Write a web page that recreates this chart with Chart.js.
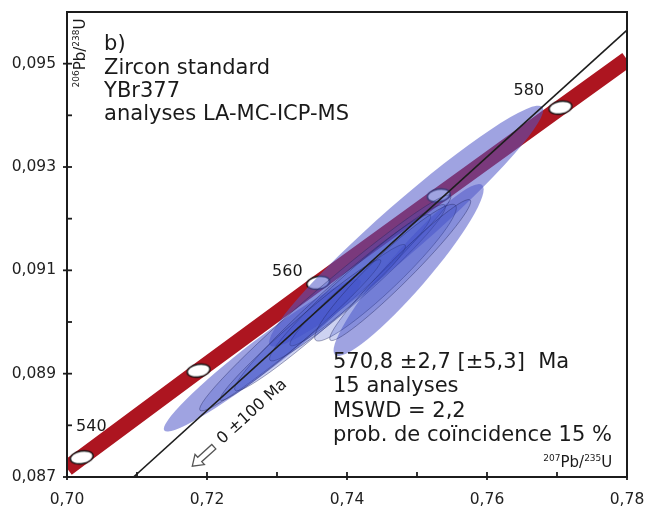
<!DOCTYPE html>
<html>
<head>
<meta charset="utf-8">
<script src="https://cdn.jsdelivr.net/npm/chart.js@4.4.1/dist/chart.umd.min.js"></script>
<style>
  html, body { margin: 0; padding: 0; background: #fff; }
</style>
</head>
<body>
<canvas id="concordiaChart" width="652" height="512"></canvas>
<script>
// axis ticks (207Pb/235U on x, 206Pb/238U on y)
const xTicks = [0.70, 0.71, 0.72, 0.73, 0.74, 0.75, 0.76, 0.77, 0.78];
const xLabels = ['0,70', '', '0,72', '', '0,74', '', '0,76', '', '0,78'];
const yTicks = [0.087, 0.088, 0.089, 0.090, 0.091, 0.092, 0.093, 0.094, 0.095, 0.096];
const yLabels = ['0,087', '', '0,089', '', '0,091', '', '0,093', '', '0,095', ''];

// concordia band, read along its centre (edges of the frame + the age marks)
const concordiaX = [0.7000, 0.7021, 0.7188, 0.7359, 0.7531, 0.7705, 0.7800];
const concordiaY = [0.08717, 0.08738, 0.08906, 0.09076, 0.09245, 0.09415, 0.09508];

// age marks on the concordia (every 10 Ma)
const ageMarks = [540, 550, 560, 570, 580];
const ageX = [0.7021, 0.7188, 0.7359, 0.7531, 0.7705];
const ageY = [0.08738, 0.08906, 0.09076, 0.09245, 0.09415];

// discordia through the lower intercept (0 ± 100 Ma)
const discordiaX = [0.7095, 0.7800];
const discordiaY = [0.0870, 0.09565];

// error ellipses: ends of the long axis, width ratio, dark core or not
const ellX1 = [0.7139, 0.7290, 0.7383, 0.7190, 0.7240, 0.7290, 0.7319, 0.7219, 0.7355, 0.7376];
const ellY1 = [0.08790, 0.08955, 0.08936, 0.08829, 0.08868, 0.08926, 0.08955, 0.08849, 0.08965, 0.08965];
const ellX2 = [0.7419, 0.7679, 0.7593, 0.7548, 0.7519, 0.7540, 0.7483, 0.7448, 0.7555, 0.7576];
const ellY2 = [0.09081, 0.09416, 0.09265, 0.09245, 0.09207, 0.09226, 0.09149, 0.09120, 0.09226, 0.09236];
const ellRatio = [0.130, 0.133, 0.178, 0.091, 0.107, 0.12, 0.131, 0.094, 0.165, 0.121];
const ellDark = [false, false, false, true, true, true, true, true, true, true];

// text on the plot
const noteLines = ['b)', 'Zircon standard', 'YBr377', 'analyses LA-MC-ICP-MS'];
const noteAt = [0.7053, 0.09526];
const resultLines = ['570,8 ±2,7 [±5,3]  Ma', '15 analyses', 'MSWD = 2,2', 'prob. de coïncidence 15 %'];
const resultAt = [0.7380, 0.08911];
const ageLabelText = ['540', '560', '580'];
const ageLabelX = [0.7013, 0.7293, 0.7638];
const ageLabelY = [0.08789, 0.09089, 0.09439];
const interceptText = '0 ±100 Ma';
const interceptAt = [0.7222, 0.08763];
const arrowTipAt = [0.7179, 0.08721];
const yTitleAt = [0.7026, 0.09454];
const xTitleAt = [0.7779, 0.08719];

const FONT = '"DejaVu Sans", sans-serif';

function markerImage() {
  const c = document.createElement('canvas');
  c.width = 30; c.height = 20;
  const g = c.getContext('2d');
  g.beginPath();
  g.ellipse(15, 10, 11.5, 6.3, -0.18, 0, Math.PI * 2);
  g.fillStyle = '#fff';
  g.fill();
  g.lineWidth = 1.4;
  g.strokeStyle = '#111';
  g.stroke();
  return c;
}

function toPoints(xs, ys) {
  return xs.map((v, i) => ({ x: v, y: ys[i] }));
}

// superscript isotopes, e.g. 206Pb/238U
function isotopeParts(a, b) {
  return [{ t: a, sup: true }, { t: 'Pb/', sup: false }, { t: b, sup: true }, { t: 'U', sup: false }];
}
function richWidth(ctx, parts) {
  let w = 0;
  parts.forEach((p) => {
    ctx.font = (p.sup ? '9px ' : '15px ') + FONT;
    w += ctx.measureText(p.t).width;
  });
  return w;
}
function drawRich(ctx, parts, x, y) {
  parts.forEach((p) => {
    ctx.font = (p.sup ? '9px ' : '15px ') + FONT;
    ctx.fillText(p.t, x, p.sup ? y - 6 : y);
    x += ctx.measureText(p.t).width;
  });
}

const errorEllipses = {
  id: 'errorEllipses',
  afterDatasetDraw(chart, args) {
    if (args.index !== 1) return;
    const { ctx, chartArea: a, scales: { x, y } } = chart;
    ctx.save();
    ctx.beginPath();
    ctx.rect(a.left, a.top, a.right - a.left, a.bottom - a.top);
    ctx.clip();
    ellX1.forEach((_, i) => {
      const ax = x.getPixelForValue(ellX1[i]), ay = y.getPixelForValue(ellY1[i]);
      const bx = x.getPixelForValue(ellX2[i]), by = y.getPixelForValue(ellY2[i]);
      const half = Math.hypot(bx - ax, by - ay) / 2;
      ctx.beginPath();
      ctx.ellipse((ax + bx) / 2, (ay + by) / 2, half, half * ellRatio[i], Math.atan2(by - ay, bx - ax), 0, Math.PI * 2);
      ctx.fillStyle = ellDark[i] ? 'rgba(60,80,200,0.26)' : 'rgba(80,88,200,0.55)';
      ctx.fill();
      if (ellDark[i]) {
        ctx.lineWidth = 1;
        ctx.strokeStyle = 'rgba(30,35,90,0.4)';
        ctx.stroke();
      }
    });
    ctx.restore();
  }
};

const annotations = {
  id: 'annotations',
  afterDatasetsDraw(chart) {
    const { ctx, scales: { x, y } } = chart;
    ctx.save();
    ctx.fillStyle = '#1a1a1a';
    ctx.textAlign = 'left';
    ctx.textBaseline = 'alphabetic';

    ctx.font = '21px ' + FONT;
    noteLines.forEach((t, i) => {
      ctx.fillText(t, x.getPixelForValue(noteAt[0]), y.getPixelForValue(noteAt[1]) + i * 23.4);
    });
    resultLines.forEach((t, i) => {
      ctx.fillText(t, x.getPixelForValue(resultAt[0]), y.getPixelForValue(resultAt[1]) + i * 24.3);
    });

    ctx.font = '16px ' + FONT;
    ageLabelText.forEach((t, i) => {
      ctx.fillText(t, x.getPixelForValue(ageLabelX[i]), y.getPixelForValue(ageLabelY[i]));
    });

    // axis titles inside the frame
    const yParts = isotopeParts('206', '238');
    ctx.save();
    ctx.translate(x.getPixelForValue(yTitleAt[0]), y.getPixelForValue(yTitleAt[1]));
    ctx.rotate(-Math.PI / 2);
    drawRich(ctx, yParts, 0, 0);
    ctx.restore();
    const xParts = isotopeParts('207', '235');
    drawRich(ctx, xParts, x.getPixelForValue(xTitleAt[0]) - richWidth(ctx, xParts), y.getPixelForValue(xTitleAt[1]));

    // lower intercept label and hollow arrow, parallel to the discordia
    const ang = Math.atan2(
      y.getPixelForValue(discordiaY[1]) - y.getPixelForValue(discordiaY[0]),
      x.getPixelForValue(discordiaX[1]) - x.getPixelForValue(discordiaX[0])
    );
    ctx.save();
    ctx.translate(x.getPixelForValue(interceptAt[0]), y.getPixelForValue(interceptAt[1]));
    ctx.rotate(ang);
    ctx.font = '16px ' + FONT;
    ctx.fillText(interceptText, 0, 0);
    ctx.restore();

    ctx.save();
    ctx.translate(x.getPixelForValue(arrowTipAt[0]), y.getPixelForValue(arrowTipAt[1]));
    ctx.rotate(ang);
    ctx.beginPath();
    ctx.moveTo(0, 0);
    ctx.lineTo(10, -7);
    ctx.lineTo(10, -3);
    ctx.lineTo(29, -3);
    ctx.lineTo(29, 3);
    ctx.lineTo(10, 3);
    ctx.lineTo(10, 7);
    ctx.closePath();
    ctx.fillStyle = '#fff';
    ctx.fill();
    ctx.lineWidth = 1.3;
    ctx.strokeStyle = '#555';
    ctx.stroke();
    ctx.restore();

    ctx.restore();
  }
};

const frameAndTicks = {
  id: 'frameAndTicks',
  afterDraw(chart) {
    const { ctx, chartArea: a, scales: { x, y } } = chart;
    ctx.save();
    ctx.strokeStyle = '#1c1c1c';
    ctx.lineWidth = 2;
    ctx.strokeRect(a.left, a.top, a.right - a.left, a.bottom - a.top);
    ctx.lineWidth = 1.8;
    xTicks.forEach((v, i) => {
      const px = x.getPixelForValue(v);
      ctx.beginPath();
      ctx.moveTo(px, a.bottom + (xLabels[i] ? 3 : 0));
      ctx.lineTo(px, a.bottom - 5);
      ctx.stroke();
    });
    yTicks.forEach((v, i) => {
      const py = y.getPixelForValue(v);
      ctx.beginPath();
      ctx.moveTo(a.left - (yLabels[i] ? 4 : 0), py);
      ctx.lineTo(a.left + 5, py);
      ctx.stroke();
    });
    ctx.restore();
  }
};

const ctx = document.getElementById('concordiaChart');

new Chart(ctx, {
  type: 'scatter',
  data: {
    datasets: [
      {
        label: 'discordia',
        data: toPoints(discordiaX, discordiaY),
        showLine: true,
        borderColor: '#1e1e1e',
        borderWidth: 1.6,
        pointRadius: 0,
        clip: 0
      },
      {
        label: 'ages',
        data: toPoints(ageX, ageY),
        showLine: false,
        pointStyle: markerImage(),
        pointRadius: 8
      },
      {
        label: 'concordia',
        data: toPoints(concordiaX, concordiaY),
        showLine: true,
        borderColor: '#ad1520',
        borderWidth: 16,
        borderCapStyle: 'butt',
        pointRadius: 0,
        clip: 0
      }
    ]
  },
  options: {
    responsive: false,
    animation: false,
    layout: {
      padding: { top: 12, right: 25, left: 0, bottom: 0 }
    },
    plugins: {
      legend: { display: false },
      tooltip: { enabled: false }
    },
    scales: {
      x: {
        type: 'linear',
        min: 0.70,
        max: 0.78,
        afterBuildTicks: (scale) => { scale.ticks = xTicks.map((v) => ({ value: v })); },
        afterFit: (scale) => {
          scale.height = 35;
          scale.paddingLeft = 0;
          scale.paddingRight = 0;
        },
        grid: { display: false, drawTicks: false },
        border: { display: false },
        ticks: {
          autoSkip: false,
          maxRotation: 0,
          padding: 14,
          color: '#222',
          font: { family: 'DejaVu Sans', size: 15.5 },
          callback: (value, index) => xLabels[index]
        }
      },
      y: {
        type: 'linear',
        min: 0.087,
        max: 0.096,
        afterBuildTicks: (scale) => { scale.ticks = yTicks.map((v) => ({ value: v })); },
        afterFit: (scale) => {
          scale.width = 67;
          scale.paddingTop = 0;
          scale.paddingBottom = 0;
        },
        grid: { display: false, drawTicks: false },
        border: { display: false },
        ticks: {
          autoSkip: false,
          padding: 11,
          color: '#222',
          font: { family: 'DejaVu Sans', size: 15.5 },
          callback: (value, index) => yLabels[index]
        }
      }
    }
  },
  plugins: [errorEllipses, annotations, frameAndTicks]
});
</script>
</body>
</html>
